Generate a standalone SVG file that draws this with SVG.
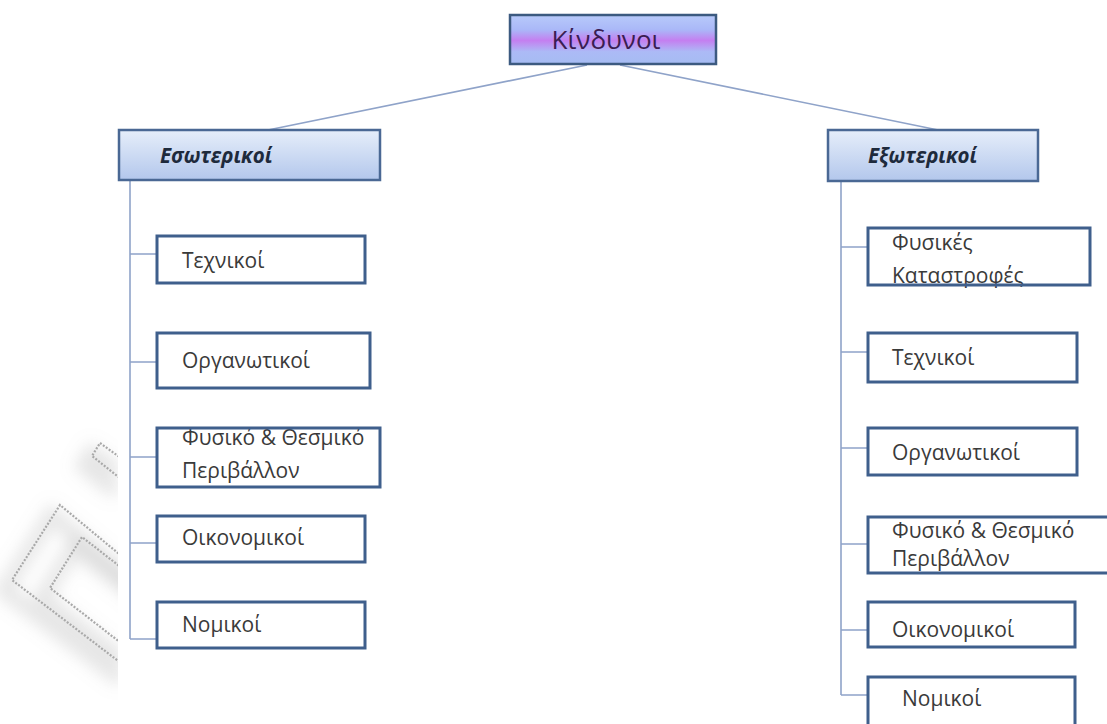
<svg xmlns="http://www.w3.org/2000/svg" width="1107" height="724" viewBox="0 0 1107 724">
  <style>
    .conn { stroke: #8fa3c9; stroke-width: 1.6; fill: none; }
    .box { fill: none; stroke: #3f5f8c; stroke-width: 3; }
    .cat { stroke: #4a6894; stroke-width: 2.5; }
    .lbl { font-family: "Open Sans", "Noto Sans", sans-serif; font-size: 21px; fill: #3a3a3a; }
    .catlbl { font-family: "Open Sans", "Noto Sans", sans-serif; font-size: 20.5px; font-weight: bold; font-style: italic; fill: #1e2a3c; }
    .title { font-family: "Open Sans", "Noto Sans", sans-serif; font-size: 26px; fill: #3a1d52; }
    .wm { fill: none; stroke: #a9a9a9; stroke-width: 2.2; stroke-dasharray: 2 1.6; }
    .wmshadow { fill: none; stroke: #9a9a9a; stroke-width: 16; opacity: 0.25; }
  </style>
  <defs>
    <linearGradient id="gTitle" x1="0" y1="0" x2="0" y2="1">
      <stop offset="0" stop-color="#b8cafa"/>
      <stop offset="0.3" stop-color="#aab8f8"/>
      <stop offset="0.52" stop-color="#c47ff0"/>
      <stop offset="0.75" stop-color="#acbaf6"/>
      <stop offset="1" stop-color="#a6bcf2"/>
    </linearGradient>
    <linearGradient id="gCat" x1="0" y1="0" x2="0" y2="1">
      <stop offset="0" stop-color="#e6eefa"/>
      <stop offset="1" stop-color="#b3c7ec"/>
    </linearGradient>
    <filter id="soft" x="-50%" y="-50%" width="200%" height="200%">
      <feGaussianBlur stdDeviation="8"/>
    </filter>
    <clipPath id="wmClip">
      <rect x="0" y="380" width="118" height="344"/>
    </clipPath>
  </defs>

  <rect width="1107" height="724" fill="#ffffff"/>

  <!-- background mark, lower left -->
  <g id="watermark" clip-path="url(#wmClip)">
    <g filter="url(#soft)" transform="translate(-8 10)">
      <path class="wmshadow" d="M160,588 L60,505 L12,580 L130,670"/>
      <path class="wmshadow" d="M150,590 L82,537 L50,588 L130,650"/>
      <path class="wmshadow" d="M125,461 L100,443 L92,456 L125,482"/>
    </g>
    <path class="wm" d="M160,588 L60,505 L12,580 L130,670"/>
    <path class="wm" d="M150,590 L82,537 L50,588 L130,650"/>
    <path class="wm" d="M125,461 L100,443 L92,456 L125,482"/>
  </g>

  <!-- connectors -->
  <g id="connectors">
    <line class="conn" x1="587" y1="65" x2="268" y2="130"/>
    <line class="conn" x1="620" y1="65" x2="943" y2="131"/>
    <path class="conn" d="M130,180 V639 M130,254 H157 M130,362 H157 M130,457 H157 M130,543 H157 M130,639 H157"/>
    <path class="conn" d="M841,181 V695 M841,247 H868 M841,352 H868 M841,448 H868 M841,544 H868 M841,630 H868 M841,695 H868"/>
  </g>

  <!-- root -->
  <g id="root">
    <rect x="510" y="15" width="206" height="49" fill="url(#gTitle)" stroke="#3c5a80" stroke-width="2.5"/>
    <text class="title" x="606" y="49" text-anchor="middle">Κίνδυνοι</text>
  </g>

  <!-- categories -->
  <g id="internal">
    <rect class="cat" x="119" y="130" width="261" height="50" fill="url(#gCat)"/>
    <text class="catlbl" x="160" y="163">Εσωτερικοί</text>
  </g>
  <g id="external">
    <rect class="cat" x="828" y="130" width="210" height="51" fill="url(#gCat)"/>
    <text class="catlbl" x="868" y="163">Εξωτερικοί</text>
  </g>

  <!-- internal risks -->
  <g id="int-technical">
    <text class="lbl" x="182" y="268">Τεχνικοί</text>
    <rect class="box" x="157" y="236" width="208" height="47"/>
  </g>
  <g id="int-organisational">
    <text class="lbl" x="182" y="368">Οργανωτικοί</text>
    <rect class="box" x="157" y="333" width="213" height="55"/>
  </g>
  <g id="int-environment">
    <text class="lbl" x="182" y="445">Φυσικό &amp; Θεσμικό</text>
    <text class="lbl" x="182" y="478">Περιβάλλον</text>
    <rect class="box" x="157" y="428" width="223" height="59"/>
  </g>
  <g id="int-economic">
    <text class="lbl" x="182" y="545">Οικονομικοί</text>
    <rect class="box" x="157" y="516" width="208" height="46"/>
  </g>
  <g id="int-legal">
    <text class="lbl" x="182" y="632">Νομικοί</text>
    <rect class="box" x="157" y="602" width="208" height="46"/>
  </g>

  <!-- external risks -->
  <g id="ext-disasters">
    <text class="lbl" x="892" y="250">Φυσικές</text>
    <text class="lbl" x="892" y="283">Καταστροφές</text>
    <rect class="box" x="868" y="228" width="222" height="57"/>
  </g>
  <g id="ext-technical">
    <text class="lbl" x="892" y="365">Τεχνικοί</text>
    <rect class="box" x="868" y="333" width="209" height="49"/>
  </g>
  <g id="ext-organisational">
    <text class="lbl" x="892" y="460">Οργανωτικοί</text>
    <rect class="box" x="868" y="428" width="209" height="47"/>
  </g>
  <g id="ext-environment">
    <text class="lbl" x="892" y="538">Φυσικό &amp; Θεσμικό</text>
    <text class="lbl" x="892" y="566">Περιβάλλον</text>
    <rect class="box" x="868" y="517" width="250" height="56"/>
  </g>
  <g id="ext-economic">
    <text class="lbl" x="892" y="637">Οικονομικοί</text>
    <rect class="box" x="868" y="602" width="207" height="45"/>
  </g>
  <g id="ext-legal">
    <text class="lbl" x="902" y="706">Νομικοί</text>
    <rect class="box" x="868" y="677" width="207" height="60"/>
  </g>
</svg>
